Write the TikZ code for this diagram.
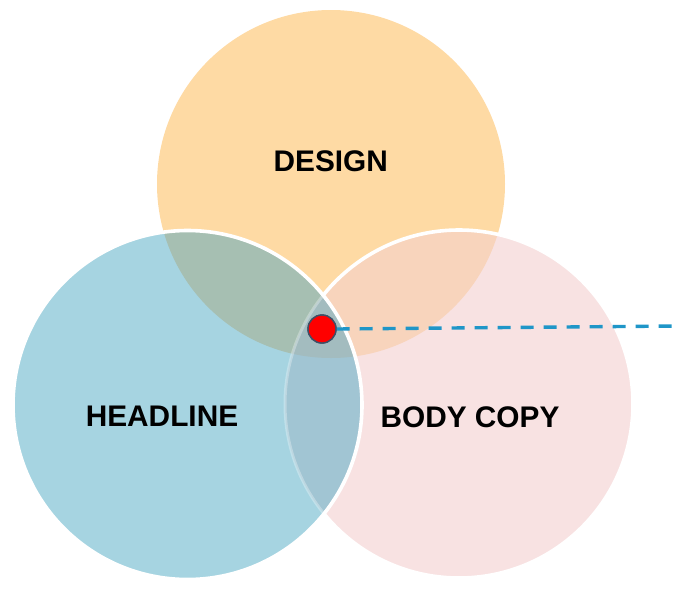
\documentclass[tikz,border=0pt]{standalone}
\usepackage{fontspec}
\setmainfont{Liberation Sans}
\begin{document}
\begin{tikzpicture}[x=1pt,y=-1pt,
  label text/.style={font=\fontsize{29.8}{34}\selectfont\bfseries, text=black, anchor=base, inner sep=0pt},
  rim/.style={draw=white, line width=3.6pt},
  marker/.style={circle, fill=red, draw=dotrim, line width=1.4pt, minimum size=28pt, inner sep=0pt},
  leader/.style={draw=leadblue, line width=3.4pt, dash pattern=on 13pt off 10pt}]
\definecolor{cDesign}{HTML}{FEDAA4}
\definecolor{cHead}{HTML}{A6D4E1}
\definecolor{cBody}{HTML}{F8E2E2}
\definecolor{cDH}{HTML}{A6BFB2}
\definecolor{cDB}{HTML}{F8D4BC}
\definecolor{cHB}{HTML}{A1C5D3}
\definecolor{cAll}{HTML}{A3BCBF}
\definecolor{dotrim}{HTML}{3F4F66}
\definecolor{leadblue}{HTML}{1F96C8}
\useasboundingbox (0,0) rectangle (678,590);
% circle centres
\coordinate (cD) at (331,184);
\coordinate (cH) at (187.5,405);
\coordinate (cB) at (459,404);
% design and body copy
\fill[cDesign] (cD) circle[radius=174];
\fill[cBody] (cB) circle[radius=174];
\begin{scope}
  \clip (cD) circle[radius=174];
  \fill[cDB] (cB) circle[radius=174];
\end{scope}
\draw[rim] (cB) circle[radius=174];
% headline on top
\fill[cHead] (cH) circle[radius=174.5];
\begin{scope}
  \clip (cH) circle[radius=174.5];
  \fill[cDH] (cD) circle[radius=174];
  \fill[cHB] (cB) circle[radius=174];
  \begin{scope}
    \clip (cD) circle[radius=174];
    \fill[cAll] (cB) circle[radius=174];
  \end{scope}
  \draw[draw=white, line width=3pt, opacity=0.3] (cB) circle[radius=174];
\end{scope}
\draw[rim] (cH) circle[radius=174.5];
% labels
\node[label text] (design) at (330.8,171.7) {DESIGN};
\node[label text] (headline) at (162,426.7) {HEADLINE};
\node[label text] (bodycopy) at (470,427.3) {BODY COPY};
% marker with leader line
\node[marker] (dot) at (322,329) {};
\coordinate (leadend) at (678,326);
\draw[leader] (dot.east) -- (leadend);
\node[marker] at (dot) {};
\end{tikzpicture}
\end{document}
